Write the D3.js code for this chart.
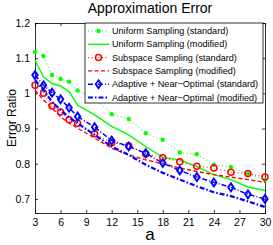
<!DOCTYPE html>
<html>
<head>
<meta charset="utf-8">
<script src="https://cdn.jsdelivr.net/npm/d3@7"></script>
<style>
body{margin:0;background:#fff;}
text{font-family:"Liberation Sans",Arial,sans-serif;}
</style>
</head>
<body>
<script>
// data
const xStd=[3,4,5,6,7,8,10,12,14,16,18,20,22,24,26,28,30];
const uniformStd=[1.118,1.106,1.052,1.041,1.033,1.008,0.985,0.941,0.927,0.887,0.868,0.832,0.827,0.797,0.791,0.772,0.754];
const uniformMod=[1.094,1.047,1.028,1.021,1.005,0.967,0.939,0.906,0.882,0.849,0.818,0.811,0.792,0.769,0.755,0.734,0.724];
const subspaceStd=[1.023,1.0,0.964,0.947,0.925,0.915,0.885,0.860,0.851,0.828,0.817,0.806,0.793,0.788,0.776,0.772,0.762];
const subspaceMod=[1.009,0.981,0.958,0.934,0.915,0.901,0.873,0.844,0.825,0.811,0.800,0.788,0.778,0.769,0.762,0.755,0.747];
const adaptStd=[1.052,1.023,1.002,0.983,0.959,0.934,0.904,0.866,0.849,0.830,0.802,0.781,0.762,0.747,0.733,0.713,0.700];
const adaptMod=[1.038,1.009,0.976,0.953,0.932,0.915,0.882,0.849,0.825,0.797,0.774,0.755,0.736,0.719,0.708,0.693,0.677];
const xTicks=[3,6,9,12,15,18,21,24,27,30];
const yTicks=[0.7,0.8,0.9,1,1.1,1.2];

const series=[
 {name:"Uniform Sampling (standard)",v:uniformStd,color:"#00ff00",dash:"1,2.5",w:1,marker:"dot"},
 {name:"Uniform Sampling (modified)",v:uniformMod,color:"#00ff00",dash:null,w:1.4,marker:null},
 {name:"Subspace Sampling (standard)",v:subspaceStd,color:"#ff0000",dash:"1,2.5",w:1,marker:"circle"},
 {name:"Subspace Sampling (modified)",v:subspaceMod,color:"#ff0000",dash:"4,2.5",w:1.4,marker:null},
 {name:"Adaptive + Near\u2212Optimal (standard)",v:adaptStd,color:"#0000ff",dash:"5,2,1,2",w:1.5,marker:"diamond"},
 {name:"Adaptive + Near\u2212Optimal (modified)",v:adaptMod,color:"#0000ff",dash:"5,2,1.5,2",w:2.2,marker:null}
];

const W=273,H=245;
const m={l:35,r:8,t:23,b:32};
const svg=d3.select("body").append("svg").attr("width",W).attr("height",H);

const x=d3.scaleLinear().domain([3,30]).range([m.l,W-m.r]);
const y=d3.scaleLinear().domain([0.66,1.2]).range([H-m.b,m.t]);

// axes (inward ticks, box)
svg.append("g").attr("transform","translate(0,"+(H-m.b)+")")
 .call(d3.axisBottom(x).tickValues(xTicks).tickSize(-3).tickPadding(6))
 .call(g=>g.selectAll("text").attr("font-size",10.5));
svg.append("g").attr("transform","translate("+m.l+",0)")
 .call(d3.axisLeft(y).tickValues(yTicks).tickSize(-3).tickPadding(5).tickFormat(d=>String(d)))
 .call(g=>g.selectAll("text").attr("font-size",10.5));
svg.append("g").attr("transform","translate(0,"+m.t+")")
 .call(d3.axisTop(x).tickValues(xTicks).tickSize(-3).tickFormat(""));
svg.append("g").attr("transform","translate("+(W-m.r)+",0)")
 .call(d3.axisRight(y).tickValues(yTicks).tickSize(-3).tickFormat(""));
svg.selectAll(".domain,.tick line").attr("stroke","#000").attr("stroke-width",0.8);

const line=d3.line().x((d,i)=>x(xStd[i])).y(d=>y(d));

function marker(g,type,color){
 if(type==="dot") g.append("circle").attr("r",2.2).attr("fill",color);
 else if(type==="circle") g.append("circle").attr("r",3).attr("fill","none").attr("stroke",color).attr("stroke-width",1.5);
 else if(type==="diamond") g.append("path").attr("d",d3.symbol(d3.symbolDiamond2,30)()).attr("transform","scale(0.8,1.15)").attr("fill","none").attr("stroke",color).attr("stroke-width",2);
}

series.forEach(s=>{
 svg.append("path").attr("d",line(s.v)).attr("fill","none").attr("stroke",s.color)
  .attr("stroke-width",s.w).attr("stroke-dasharray",s.dash);
 if(s.marker){
  s.v.forEach((d,i)=>{
   const g=svg.append("g").attr("transform","translate("+x(xStd[i])+","+y(d)+")");
   marker(g,s.marker,s.color);
  });
 }
});

// legend
const lg=svg.append("g").attr("transform","translate(85,23)");
lg.append("rect").attr("width",178).attr("height",80).attr("fill","#fff").attr("stroke","#000").attr("stroke-width",0.8);
series.forEach((s,i)=>{
 const yy=8+i*13.3;
 lg.append("line").attr("x1",3).attr("x2",24).attr("y1",yy).attr("y2",yy)
  .attr("stroke",s.color).attr("stroke-width",s.w).attr("stroke-dasharray",s.dash);
 if(s.marker){const g=lg.append("g").attr("transform","translate(13.5,"+yy+")");marker(g,s.marker,s.color);}
 lg.append("text").attr("x",27).attr("y",yy).attr("dy","0.35em").attr("font-size",9.1).text(s.name);
});

// titles
svg.append("text").attr("x",(m.l+W-m.r)/2).attr("y",13).attr("text-anchor","middle").attr("font-size",14).text("Approximation Error");
svg.append("text").attr("x",(m.l+W-m.r)/2).attr("y",240).attr("text-anchor","middle").attr("font-size",17).text("a");
svg.append("text").attr("transform","translate(16,"+((m.t+H-m.b)/2)+") rotate(-90)").attr("text-anchor","middle").attr("font-size",12).text("Error Ratio");
</script>
</body>
</html>
